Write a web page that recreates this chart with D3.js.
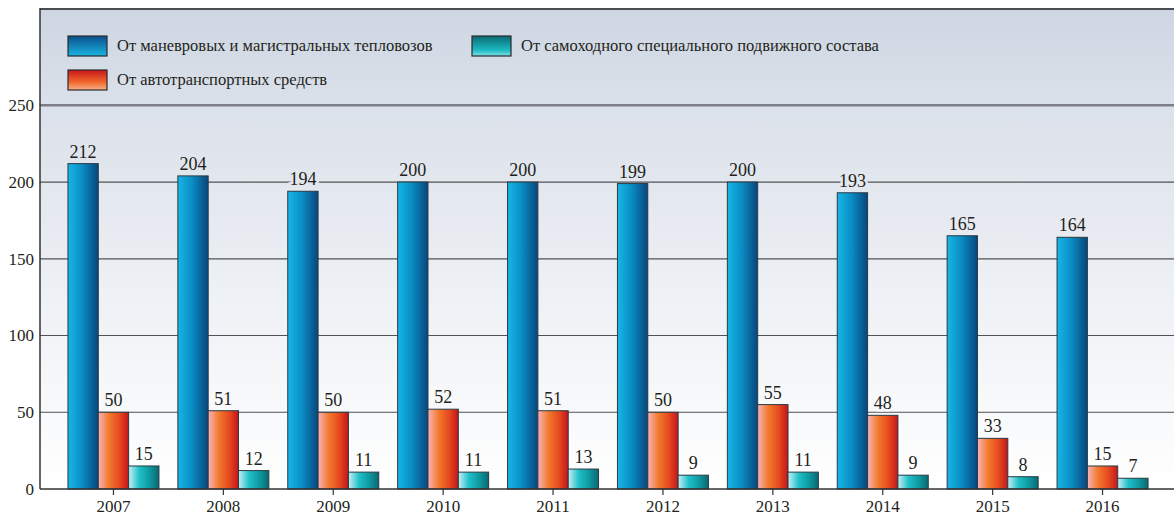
<!DOCTYPE html>
<html>
<head>
<meta charset="utf-8">
<script src="https://cdn.jsdelivr.net/npm/d3@7"></script>
<style>
  body { margin: 0; background: #fff; }
  svg { display: block; }
</style>
</head>
<body>
<svg id="chart" width="1174" height="519"></svg>
<script>
// data
let years = ["2007", "2008", "2009", "2010", "2011", "2012", "2013", "2014", "2015", "2016"];
let seriesNames = [
  "От маневровых и магистральных тепловозов",
  "От автотранспортных средств",
  "От самоходного специального подвижного состава"
];
let locomotives = [212, 204, 194, 200, 200, 199, 200, 193, 165, 164];
let vehicles = [50, 51, 50, 52, 51, 50, 55, 48, 33, 15];
let selfPropelled = [15, 12, 11, 11, 13, 9, 11, 9, 8, 7];
let yTicks = [0, 50, 100, 150, 200, 250];

let seriesKeys = ["loco", "auto", "self"];
let seriesValues = { loco: locomotives, auto: vehicles, self: selfPropelled };

const FONT = "'Liberation Serif', 'Times New Roman', 'DejaVu Serif', serif";
const INK = "#231f20";

let svg = d3.select("#chart").attr("font-family", FONT);
let W = 1174;
let plotLeft = 40, plotTop = 9, plotBottom = 489;

let y = d3.scaleLinear().domain([0, 250]).range([plotBottom, 105.3]);
let x0 = d3.scaleBand().domain(years).range([58.5, 1157.5]).paddingInner(0.172).paddingOuter(0.086);
let x1 = d3.scaleBand().domain(seriesKeys).range([0, x0.bandwidth()]);

let defs = svg.append("defs");

// background of the plot
let bgStops = [[0, "#cdd6e2"], [0.2, "#dbe1ea"], [0.6, "#eef1f5"], [1, "#ffffff"]];
let bg = defs.append("linearGradient").attr("id", "bg").attr("x1", 0).attr("y1", 0).attr("x2", 0).attr("y2", 1);
bgStops.forEach(s => bg.append("stop").attr("offset", s[0]).attr("stop-color", s[1]));
let bgColor = function (py) {
  let t = (py - plotTop) / (plotBottom - plotTop);
  for (let i = 1; i < bgStops.length; i++) {
    if (t <= bgStops[i][0]) {
      let a = bgStops[i - 1], b = bgStops[i];
      return d3.interpolateRgb(a[1], b[1])((t - a[0]) / (b[0] - a[0]));
    }
  }
  return "#ffffff";
};

let barGrad = {
  loco: [[0, "#17b6e6"], [0.45, "#0a8fc6"], [1, "#08467c"]],
  auto: [[0, "#f7b3bd"], [0.35, "#f27a2c"], [0.7, "#e6481f"], [1, "#c3161b"]],
  self: [[0, "#c8eff7"], [0.35, "#1fc0c8"], [0.7, "#0e979f"], [1, "#0b6870"]]
};
let legGrad = {
  loco: [[0, "#0a4f8c"], [1, "#1ab4e2"]],
  auto: [[0, "#c9161c"], [0.6, "#f0672a"], [1, "#f9b08a"]],
  self: [[0, "#0b6a72"], [0.7, "#1cb9c2"], [1, "#7fe0e6"]]
};
seriesKeys.forEach(k => {
  let g = defs.append("linearGradient").attr("id", "bar-" + k).attr("x1", 0).attr("y1", 0).attr("x2", 1).attr("y2", 0);
  barGrad[k].forEach(s => g.append("stop").attr("offset", s[0]).attr("stop-color", s[1]));
  let l = defs.append("linearGradient").attr("id", "leg-" + k).attr("x1", 0).attr("y1", 0).attr("x2", 0).attr("y2", 1);
  legGrad[k].forEach(s => l.append("stop").attr("offset", s[0]).attr("stop-color", s[1]));
});

svg.append("rect").attr("x", plotLeft).attr("y", plotTop).attr("width", W - plotLeft).attr("height", plotBottom - plotTop).attr("fill", "url(#bg)");

// grid lines
svg.selectAll("line.grid")
  .data(yTicks.filter(d => d > 0))
  .enter()
  .append("line")
  .attr("class", "grid")
  .attr("x1", plotLeft).attr("x2", W)
  .attr("y1", d => y(d)).attr("y2", d => y(d))
  .attr("stroke", d => d === 250 ? "#7c7f87" : "#505255")
  .attr("stroke-width", d => d === 250 ? 2.5 : 1.2);

// top border and left axis
svg.append("line").attr("x1", plotLeft).attr("x2", W).attr("y1", plotTop).attr("y2", plotTop).attr("stroke", "#4a4c50").attr("stroke-width", 2);
svg.append("line").attr("x1", plotLeft).attr("x2", plotLeft).attr("y1", plotTop - 1).attr("y2", plotBottom).attr("stroke", "#333").attr("stroke-width", 1.5);

// y axis labels
let yAxis = svg.append("g").attr("transform", "translate(" + (plotLeft - 6) + ",0)")
  .call(d3.axisLeft(y).tickValues(yTicks).tickSize(0).tickPadding(0));
yAxis.attr("font-family", FONT).attr("font-size", 17);
yAxis.select(".domain").remove();
yAxis.selectAll("text").attr("fill", INK);

// bars
let groups = svg.selectAll("g.year")
  .data(years)
  .enter()
  .append("g")
  .attr("class", "year")
  .attr("transform", d => "translate(" + x0(d) + ",0)");

groups.each(function (yr, i) {
  let g = d3.select(this);
  seriesKeys.forEach(k => {
    let v = seriesValues[k][i];
    g.append("rect")
      .attr("x", x1(k))
      .attr("y", y(v))
      .attr("width", x1.bandwidth())
      .attr("height", y(0) - y(v))
      .attr("fill", "url(#bar-" + k + ")")
      .attr("stroke", "#2a3a44")
      .attr("stroke-width", 1);
  });
  seriesKeys.forEach(k => {
    let v = seriesValues[k][i];
    let ty = y(v) - 6;
    g.append("text")
      .attr("x", x1(k) + x1.bandwidth() / 2)
      .attr("y", ty)
      .attr("text-anchor", "middle")
      .attr("font-family", FONT)
      .attr("font-size", 18)
      .attr("fill", INK)
      .attr("stroke", bgColor(ty - 5))
      .attr("stroke-width", 5)
      .attr("paint-order", "stroke")
      .text(v);
  });
});

// baseline
svg.append("line").attr("x1", plotLeft).attr("x2", W).attr("y1", plotBottom).attr("y2", plotBottom).attr("stroke", "#333").attr("stroke-width", 1.5);

// x axis
let xAxis = svg.append("g").attr("transform", "translate(0," + plotBottom + ")")
  .call(d3.axisBottom(x0).tickSize(6).tickPadding(5));
xAxis.attr("font-family", FONT).attr("font-size", 17);
xAxis.select(".domain").remove();
xAxis.selectAll("line").attr("stroke", "#333").attr("stroke-width", 1.2);
xAxis.selectAll("text").attr("fill", INK);

// legend
let legendItems = [
  { key: "loco", name: seriesNames[0], x: 68, y: 36 },
  { key: "self", name: seriesNames[2], x: 472, y: 36 },
  { key: "auto", name: seriesNames[1], x: 68, y: 70 }
];
let legend = svg.selectAll("g.legend")
  .data(legendItems)
  .enter()
  .append("g")
  .attr("class", "legend")
  .attr("transform", d => "translate(" + d.x + "," + d.y + ")");
legend.append("rect")
  .attr("width", 39).attr("height", 20)
  .attr("fill", d => "url(#leg-" + d.key + ")")
  .attr("stroke", "#2b2b2b").attr("stroke-width", 1.2);
legend.append("text")
  .attr("x", 49).attr("y", 15)
  .attr("font-family", FONT)
  .attr("font-size", 16.5)
  .attr("fill", INK)
  .text(d => d.name);
</script>
</body>
</html>
